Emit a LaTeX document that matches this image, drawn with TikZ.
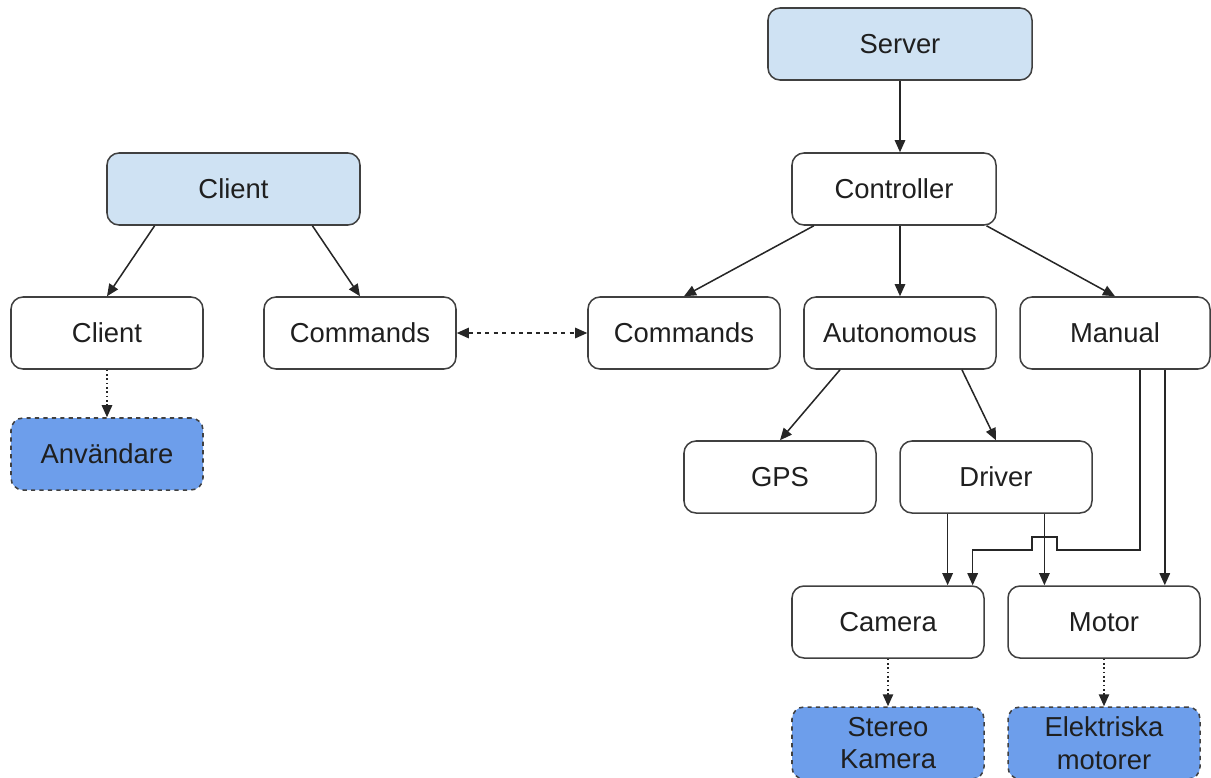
\documentclass[tikz,border=0pt]{standalone}
\usepackage{fontspec}
\setmainfont{Liberation Sans}
\usetikzlibrary{calc,arrows.meta}
\definecolor{paleblue}{HTML}{CFE2F3}
\definecolor{hwblue}{HTML}{6D9EEB}
\definecolor{edge}{HTML}{404040}
\tikzset{
	box/.style={draw=edge,line width=0.38mm,rounded corners=3mm,minimum width=48mm,minimum height=18mm,
		inner sep=0pt,align=center,text=black!88,font=\fontsize{19.5}{23.4}\selectfont},
	top/.style={box,fill=paleblue},
	hw/.style={box,fill=hwblue,dashed},
	arr/.style={->,>={Triangle[length=3mm,width=2.6mm]},draw=black!85,line width=0.38mm},
	darr/.style={arr,<->,dashed},
}

\begin{document}
\begin{tikzpicture}[x=0.25mm,y=-0.25mm]
	\useasboundingbox (0,0) rectangle (1211,777);
	
	%TOP ROW
	\node[top,minimum width=66mm] (server) at (900,44) {Server};
	\node[top,minimum width=63.25mm] (client) at (233.5,189) {Client};
	\node[box,minimum width=51mm] (ctrl) at (894,189) {Controller};
	%
	\node[box] (clientb) at (107,333) {Client};
	\node[box] (cmdl) at (360,333) {Commands};
	\node[box] (cmdr) at (684,333) {Commands};
	\node[box] (auto) at (900,333) {Autonomous};
	\node[box,minimum width=47.5mm] (manual) at (1115,333) {Manual};
	%
	\node[hw] (user) at (107,454) {Användare};
	\node[box] (gps) at (780,477) {GPS};
	\node[box] (driver) at (996,477) {Driver};
	
	%HARDWARE
	\node[box] (cam) at (888,622) {Camera};
	\node[box] (motor) at (1104,622) {Motor};
	\node[hw] (stereo) at (888,743) {Stereo\\Kamera};
	\node[hw] (emotor) at (1104,743) {Elektriska\\motorer};
	
	%CLIENT SIDE
	\draw[arr] ($(client.south west)!0.19!(client.south east)$)--(clientb.north);
	\draw[arr] ($(client.south west)!0.81!(client.south east)$)--(cmdl.north);
	\draw[arr,dotted] (clientb)--(user);
	\draw[darr] (cmdl)--(cmdr);
	
	%SERVER SIDE
	\draw[arr] (server.south)--(server.south |- ctrl.north);
	\draw[arr] ($(ctrl.south west)!0.11!(ctrl.south east)$)--(cmdr.north);
	\draw[arr] (auto.north |- ctrl.south)--(auto.north);
	\draw[arr] ($(ctrl.south west)!0.95!(ctrl.south east)$)--(manual.north);
	%
	\draw[arr] ($(auto.south west)!0.19!(auto.south east)$)--(gps.north);
	\draw[arr] ($(auto.south west)!0.82!(auto.south east)$)--(driver.north);
	
	%WIRES DOWN TO CAMERA AND MOTOR
	\coordinate (d1) at ($(driver.south west)!0.25!(driver.south east)$);
	\coordinate (d2) at ($(driver.south west)!0.75!(driver.south east)$);
	\coordinate (m1) at ($(manual.south west)!0.63!(manual.south east)$);
	\coordinate (m2) at ($(manual.south west)!0.76!(manual.south east)$);
	\coordinate (c2) at ($(cam.north west)!0.9375!(cam.north east)$);
	\coordinate (hopr) at (1057,550);
	\coordinate (hopl) at (1032,550);
	%
	\draw[arr] (d1)--(d1 |- cam.north);
	\draw[arr] (d2)--(d2 |- motor.north);
	\draw[arr] (m2)--(m2 |- motor.north);
	\draw[arr] (m1) |- (hopr)--++(0,-13) -| (hopl) -| (c2); %jumps over the driver wire
	%
	\draw[arr,dotted] (cam)--(stereo);
	\draw[arr,dotted] (motor)--(emotor);
\end{tikzpicture}
\end{document}
